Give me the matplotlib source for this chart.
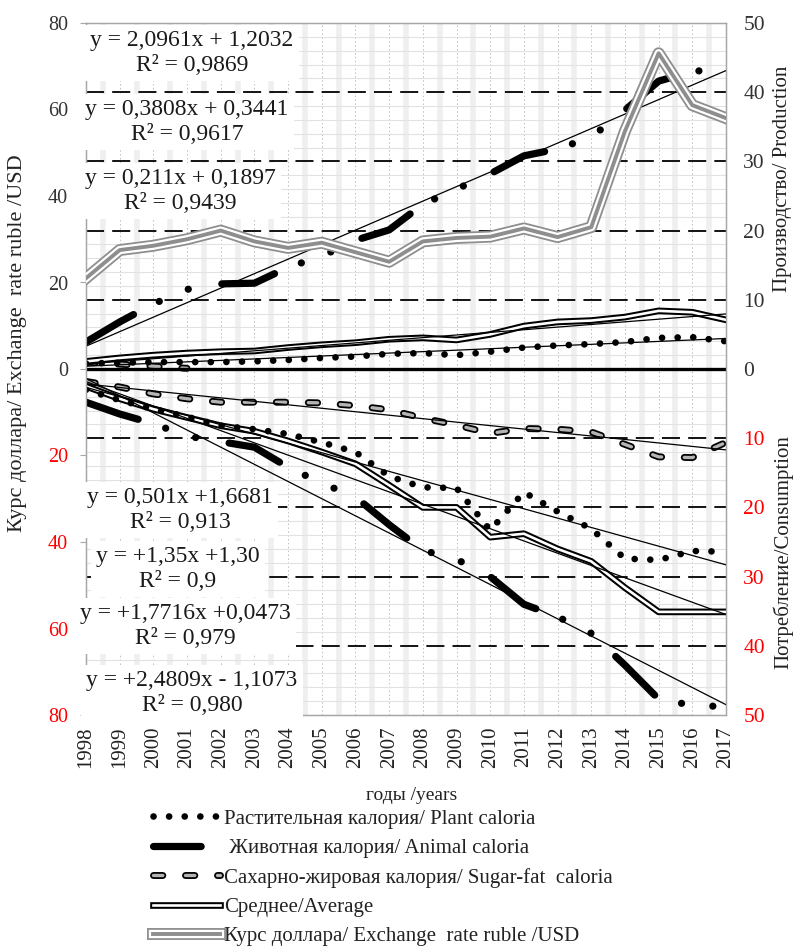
import matplotlib
matplotlib.use("Agg")
import matplotlib.pyplot as plt
import matplotlib.patheffects as pe
from matplotlib.lines import Line2D
from matplotlib.ticker import MultipleLocator, FixedLocator
import numpy as np

plt.rcParams['font.family'] = ['Liberation Serif', 'DejaVu Serif']

# ---------------- data ----------------
years = list(range(1998, 2018))

# production (right axis, upper half)
plant_prod = [0.8, 0.9, 1.0, 1.0, 1.0, 1.1, 1.3, 1.6, 1.8, 2.2, 2.3, 2.0, 2.5, 3.1, 3.4, 3.6, 3.9, 4.5, 4.6, 4.0]
animal_prod = [3.9, 6.8, 9.4, 11.5, 12.3, 12.4, 14.7, 16.3, 18.6, 20.1, 23.8, 26.0, 28.2, 30.8, 31.8, 33.5, 37.4, 41.6, 43.0, 43.4]
# sugar-fat production is only visible at the start; afterwards it is hidden on the zero line
sugar_prod = [1.0, 0.7, 0.4, 0.1, None, None, None, None, None, None,
              None, None, None, None, None, None, None, None, None, None]
avg_prod = [1.1, 1.6, 2.0, 2.3, 2.5, 2.6, 3.1, 3.5, 3.8, 4.3, 4.5, 4.2, 5.0, 6.2, 6.8, 7.0, 7.5, 8.4, 8.2, 7.1]

# consumption (right axis, lower half, plotted downward)
plant_cons = [3.0, 4.5, 5.8, 6.9, 8.2, 8.7, 9.4, 10.6, 12.0, 15.5, 17.1, 17.2, 23.3, 17.8, 20.6, 23.1, 27.4, 27.6, 26.3, 26.4]
animal_cons = [4.8, 6.5, 7.9, 9.7, 10.5, 11.3, 14.2, 16.5, 18.5, 22.5, 26.2, 27.5, 30.0, 34.0, 35.8, 38.2, 42.8, 47.7, 48.6, 48.8]
sugar_cons = [1.8, 2.6, 3.6, 4.3, 4.8, 4.8, 4.8, 4.9, 5.3, 5.9, 7.1, 8.1, 9.3, 8.6, 8.7, 9.1, 10.9, 12.7, 12.8, 10.6]
avg_cons = [2.5, 4.3, 5.8, 7.0, 8.2, 9.0, 10.4, 12.0, 13.7, 16.8, 20.0, 20.0, 24.3, 23.8, 26.0, 27.8, 31.6, 35.1, 35.1, 35.1]

# exchange rate ruble/USD (left axis)
exchange_rate = [21.0, 27.5, 28.5, 30.0, 32.0, 29.5, 28.0, 29.2, 27.0, 24.8, 29.5, 30.3, 30.6, 32.5, 30.5, 32.8, 55.0, 73.0, 61.0, 58.0]

# linear trends shown on the chart (x = 1..20)
trend_prod_slope = [2.0961, 0.3808, 0.211]     # animal, average, plant
trend_prod_icpt = [1.2032, 0.3441, 0.1897]
trend_cons_slope = [0.501, 1.35, 1.7716, 2.4809]   # sugar-fat, plant, average, animal
trend_cons_icpt = [1.6681, 1.30, 0.0473, -1.1073]

eq_labels = ["y = 2,0961x + 1,2032\nR² = 0,9869",
             "y = 0,3808x + 0,3441\nR² = 0,9617",
             "y = 0,211x + 0,1897\nR² = 0,9439",
             "y = 0,501x +1,6681\nR² = 0,913",
             "y = +1,35x +1,30\nR² = 0,9",
             "y = +1,7716x +0,0473\nR² = 0,979",
             "y = +2,4809x - 1,1073\nR² = 0,980"]

right_ticks = list(range(-50, 51, 10))
left_ticks = list(range(-80, 81, 20))

legend_labels = ["Растительная калория/ Plant caloria",
                 " Животная калория/ Animal caloria",
                 "Сахарно-жировая калория/ Sugar-fat  caloria",
                 "Среднее/Average",
                 "Курс доллара/ Exchange  rate ruble /USD"]

# ---------------- figure ----------------
W, H = 804, 947
fig = plt.figure(figsize=(W / 100, H / 100), dpi=100)
L, R, T, B = 86, 726, 23, 715
ax = fig.add_axes([L / W, 1 - B / H, (R - L) / W, (B - T) / H])
axL = ax.twinx()
ax.yaxis.tick_right()
ax.yaxis.set_label_position('right')
axL.yaxis.tick_left()
axL.yaxis.set_label_position('left')

x = np.array(years, dtype=float)
idx = np.arange(1, len(years) + 1)

ax.set_xlim(years[0], years[-1])
ax.set_ylim(-50, 50)
axL.set_ylim(-80, 80)

# grid
ax.set_axisbelow(True)
ax.set_xticks(years)
ax.xaxis.set_minor_locator(FixedLocator(np.arange(years[0] + 0.5, years[-1], 1.0)))
ax.yaxis.set_major_locator(FixedLocator(right_ticks))
ax.yaxis.set_minor_locator(MultipleLocator(2))
ax.grid(which='minor', axis='x', color='#efefef', lw=4)
ax.grid(which='major', axis='x', color='#bdbdbd', lw=0.7, ls=(0, (1.5, 2.5)))
ax.grid(which='minor', axis='y', color='#e2e2e2', lw=0.8)
for lv in right_ticks:
    if lv not in (-50, 0, 50):
        ax.axhline(lv, color='black', lw=1.3, ls=(0, (10, 4.5)), zorder=1.5)

# styles
plant_kw = dict(color='black', lw=4.8, ls=(0, (0.01, 2.33)), dash_capstyle='round')
animal_kw = dict(color='black', lw=5.2, ls=(0, (7.6, 4.0, 0.01, 4.35, 0.01, 4.7)),
                 dash_capstyle='round', solid_capstyle='round')
sugar_kw = dict(color='#b4b4b4', lw=2.4, ls=(0, (2.8, 6.8)), dash_capstyle='round',
                path_effects=[pe.Stroke(linewidth=5.0, foreground='black'), pe.Normal()])
avg_kw = dict(color='white', lw=1.9,
              path_effects=[pe.Stroke(linewidth=4.8, foreground='black'), pe.Normal()])
exch_kw = dict(color='#8e8e8e', lw=2.8,
               path_effects=[pe.Stroke(linewidth=8.6, foreground='#8e8e8e'),
                             pe.Stroke(linewidth=6.0, foreground='white'), pe.Normal()])

# production (up)
ax.plot(x, np.array(sugar_prod, dtype=float), zorder=3, **sugar_kw)
ax.axhline(0, color='black', lw=2.4, zorder=3.1)
ax.plot(x, avg_prod, zorder=3.2, **avg_kw)
ax.plot(x, plant_prod, zorder=3.4, **plant_kw)
ax.plot(x, animal_prod, zorder=3.4, **animal_kw)
# consumption (down)
ax.plot(x, -np.array(sugar_cons), zorder=3, **sugar_kw)
ax.plot(x, -np.array(avg_cons), zorder=3.2, **avg_kw)
ax.plot(x, -np.array(plant_cons), zorder=3.4, **plant_kw)
ax.plot(x, -np.array(animal_cons), zorder=3.4, **animal_kw)

# trend lines
for a, b in zip(trend_prod_slope, trend_prod_icpt):
    ax.plot(x, a * idx + b, color='black', lw=0.9, zorder=4)
for a, b in zip(trend_cons_slope, trend_cons_icpt):
    ax.plot(x, -(a * idx + b), color='black', lw=0.9, zorder=4)

# exchange rate on left axis
axL.plot(x, exchange_rate, zorder=3, **exch_kw)

# ticks
RED = '#ff0000'
ax.set_yticks(right_ticks)
ax.set_yticklabels([str(abs(v)) for v in right_ticks])
for v, lab in zip(right_ticks, ax.get_yticklabels()):
    lab.set_color(RED if v < 0 else '#333333')
axL.set_yticks(left_ticks)
axL.set_yticklabels([str(abs(v)) for v in left_ticks])
for v, lab in zip(left_ticks, axL.get_yticklabels()):
    lab.set_color(RED if v < 0 else '#333333')
ax.set_xticklabels([str(y) for y in years])
ax.tick_params(axis='y', which='both', length=0, pad=12.5, labelsize=15.5)
ax.tick_params(axis='x', which='both', length=0, pad=8, labelsize=15, labelrotation=90,
               labelcolor='#222222')
axL.tick_params(axis='y', which='both', length=4, color='#a6a6a6', pad=9, labelsize=14.5)

for a_ in (ax, axL):
    for s in a_.spines.values():
        s.set_color('#a6a6a6')
        s.set_linewidth(0.9)

# equation boxes
box_centers = [(192, 53), (187, 122), (180, 191), (180, 510), (178, 569), (185, 626), (192, 693)]
for (cx, cy), t in zip(box_centers, eq_labels):
    axL.text(cx / W, 1 - cy / H, t, transform=fig.transFigure, ha='center', va='center',
             fontsize=17, linespacing=1.2, color='#1a1a1a', zorder=20,
             bbox=dict(boxstyle='square,pad=0.22', fc='white', ec='none'))

# axis titles
fig.text(18 / W, 1 - 343 / H, "Курс доллара/ Exchange  rate ruble /USD", rotation=90,
         ha='center', va='center', fontsize=16, color='#222222')
fig.text(783 / W, 1 - 179 / H, "Производство/ Production", rotation=90,
         ha='center', va='center', fontsize=15, color='#222222')
fig.text(783 / W, 1 - 552 / H, "Потребление/Consumption", rotation=90,
         ha='center', va='center', fontsize=15, color='#222222')
fig.text(412 / W, 1 - 795 / H, "годы /years", ha='center', va='center', fontsize=14,
         color='#222222')

# legend
animal_leg_kw = dict(animal_kw)
animal_leg_kw['ls'] = (0, (6.6, 10))
handles = [Line2D([], [], **plant_kw), Line2D([], [], **animal_leg_kw), Line2D([], [], **sugar_kw),
           Line2D([], [], **avg_kw), Line2D([], [], **exch_kw)]
fig.legend(handles=handles, labels=legend_labels, loc='upper left',
           bbox_to_anchor=(153 / W, 1 - 809 / H), frameon=False, fontsize=15,
           handlelength=3.2, handletextpad=0.2, labelspacing=0.47, borderpad=0,
           borderaxespad=0, labelcolor='#222222')

fig.savefig('out.png', dpi=100)
